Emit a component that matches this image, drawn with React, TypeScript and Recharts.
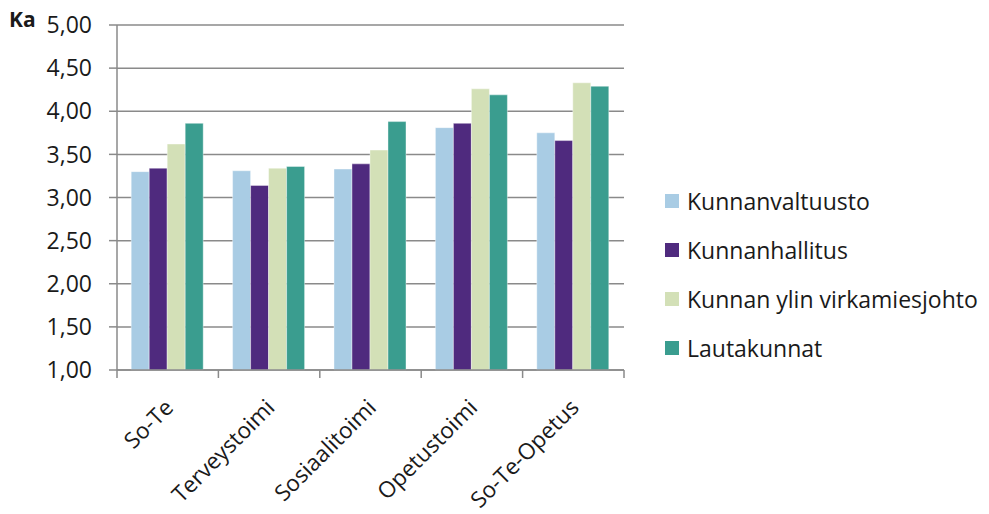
import React from 'react';
import { Bar, BarChart, CartesianGrid, Legend, XAxis, YAxis } from 'recharts';

const categories = ['So-Te', 'Terveystoimi', 'Sosiaalitoimi', 'Opetustoimi', 'So-Te-Opetus'];
const kunnanvaltuusto = [3.3, 3.31, 3.33, 3.81, 3.75];
const kunnanhallitus = [3.34, 3.14, 3.39, 3.86, 3.66];
const ylinVirkamiesjohto = [3.62, 3.34, 3.55, 4.26, 4.33];
const lautakunnat = [3.86, 3.36, 3.88, 4.19, 4.29];
const yTicks = [1, 1.5, 2, 2.5, 3, 3.5, 4, 4.5, 5];

const seriesDefs = [
  { key: 'valtuusto', name: 'Kunnanvaltuusto', color: '#a9cce4', values: kunnanvaltuusto },
  { key: 'hallitus', name: 'Kunnanhallitus', color: '#4f2a7e', values: kunnanhallitus },
  { key: 'johto', name: 'Kunnan ylin virkamiesjohto', color: '#d3e0b7', values: ylinVirkamiesjohto },
  { key: 'lauta', name: 'Lautakunnat', color: '#3a9d8f', values: lautakunnat },
];

const data = categories.map((label, i) => {
  const row: Record<string, string | number> = { label };
  seriesDefs.forEach((s) => (row[s.key] = s.values[i]));
  return row;
});

const W = 989;
const H = 514;
const PLOT_LEFT = 117;
const PLOT_RIGHT = 624;
const PLOT_TOP = 25;
const PLOT_BOTTOM = 370;
const FONT = '"Open Sans", sans-serif';
const TEXT = '#1a1a1a';
const AXIS_GRAY = '#8a8a8a';
const step = (PLOT_RIGHT - PLOT_LEFT) / categories.length;

// category label at -45deg plus the boundary tick marks between groups
const CategoryTick = (props: any) => {
  const { x, y, payload, index } = props;
  const left = x - step / 2;
  const ax = x + 7;
  const ay = y + 39;
  return (
    <g>
      <line x1={left} y1={y} x2={left} y2={y + 8} stroke={AXIS_GRAY} strokeWidth={1.5} />
      {index === categories.length - 1 && (
        <line x1={left + step} y1={y} x2={left + step} y2={y + 8} stroke={AXIS_GRAY} strokeWidth={1.5} />
      )}
      <text
        x={ax}
        y={ay}
        textAnchor="end"
        transform={`rotate(-45 ${ax} ${ay})`}
        fill={TEXT}
        fontSize={22.5}
        fontFamily={FONT}
      >
        {payload.value}
      </text>
    </g>
  );
};

const renderLegend = () => (
  <div style={{ fontFamily: FONT, fontSize: 23, color: TEXT, lineHeight: '30px' }}>
    {seriesDefs.map((s) => (
      <div key={s.key} style={{ display: 'flex', alignItems: 'center', height: 49 }}>
        <span style={{ width: 14, height: 14, background: s.color, marginRight: 8, display: 'inline-block' }} />
        <span>{s.name}</span>
      </div>
    ))}
  </div>
);

export default function App() {
  return (
    <div style={{ position: 'fixed', left: 0, top: 0, width: W, height: H, background: '#fff' }}>
      <div
        style={{
          position: 'absolute',
          left: 9,
          top: 5,
          fontFamily: FONT,
          fontWeight: 700,
          fontSize: 21,
          color: TEXT,
        }}
      >
        Ka
      </div>
      <BarChart
        width={W}
        height={H}
        data={data}
        margin={{ top: PLOT_TOP, right: W - PLOT_RIGHT, left: 0, bottom: 0 }}
        barCategoryGap="14%"
        barGap={0}
      >
        <CartesianGrid vertical={false} stroke={AXIS_GRAY} strokeWidth={1.5} />
        <XAxis
          dataKey="label"
          height={H - PLOT_BOTTOM}
          axisLine={{ stroke: AXIS_GRAY, strokeWidth: 1.5 }}
          tickLine={false}
          tickSize={0}
          tickMargin={0}
          tick={<CategoryTick />}
          interval={0}
        />
        <YAxis
          width={PLOT_LEFT}
          domain={[1, 5]}
          ticks={yTicks}
          interval={0}
          axisLine={{ stroke: AXIS_GRAY, strokeWidth: 1.5 }}
          tickLine={{ stroke: AXIS_GRAY, strokeWidth: 1.5 }}
          tickSize={8}
          tickMargin={17}
          tickFormatter={(v: number) => v.toFixed(2).replace('.', ',')}
          tick={{ fill: TEXT, fontSize: 23, fontFamily: FONT }}
        />
        {/* centred/middle legend adds no offset, so the plot keeps its size */}
        <Legend
          layout="vertical"
          align="center"
          verticalAlign="middle"
          content={renderLegend}
          wrapperStyle={{ left: 665, top: 176, width: 324 }}
        />
        {seriesDefs.map((s) => (
          <Bar
            key={s.key}
            dataKey={s.key}
            name={s.name}
            fill={s.color}
            stroke="#ffffff"
            strokeOpacity={0.5}
            strokeWidth={0.8}
            isAnimationActive={false}
          />
        ))}
      </BarChart>
    </div>
  );
}
